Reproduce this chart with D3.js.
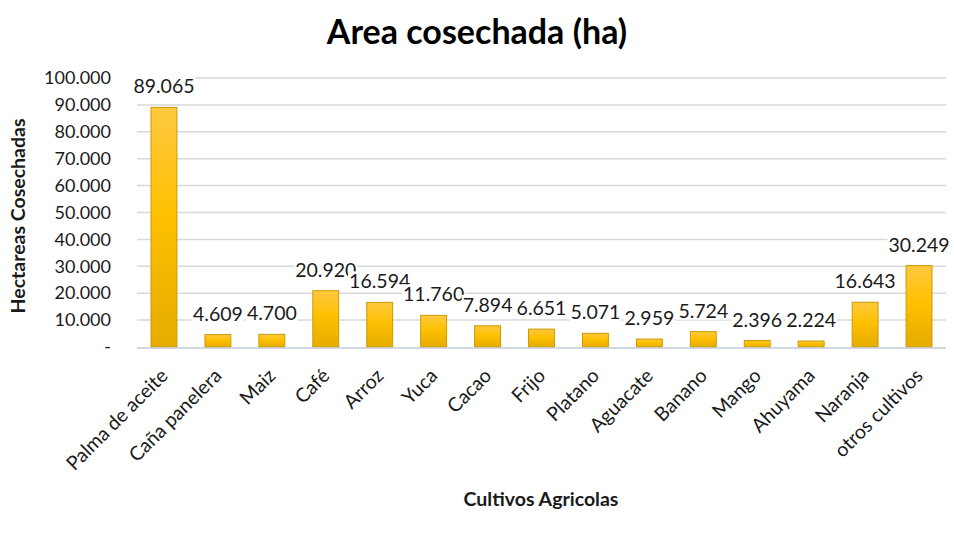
<!DOCTYPE html>
<html><head><meta charset="utf-8">
<script src="https://cdn.jsdelivr.net/npm/d3@7"></script>
<style>body{margin:0;background:#fff}svg{display:block}</style>
</head><body>
<svg id="c" width="954" height="537"></svg>
<script>
const categories = ["Palma de aceite","Caña panelera","Maiz","Café","Arroz","Yuca","Cacao","Frijo","Platano","Aguacate","Banano","Mango","Ahuyama","Naranja","otros cultivos"];
const values = [89065,4609,4700,20920,16594,11760,7894,6651,5071,2959,5724,2396,2224,16643,30249];
const valueLabels = ["89.065","4.609","4.700","20.920","16.594","11.760","7.894","6.651","5.071","2.959","5.724","2.396","2.224","16.643","30.249"];
const yTicks = [0,10000,20000,30000,40000,50000,60000,70000,80000,90000,100000];
const yTickLabels = ["-","10.000","20.000","30.000","40.000","50.000","60.000","70.000","80.000","90.000","100.000"];
const title = "Area cosechada (ha)";
const yTitle = "Hectareas Cosechadas";
const xTitle = "Cultivos Agricolas";

const FONT = "Lato, 'Open Sans', sans-serif";
const svg = d3.select("#c");
const m = {l:137, r:946, t:78, b:347};
const x = d3.scaleBand().domain(categories).range([m.l, m.r]).paddingInner(0.52).paddingOuter(0.26);
const y = d3.scaleLinear().domain([0,100000]).range([m.b, m.t]);

const defs = svg.append("defs");
const g = defs.append("linearGradient").attr("id","bg").attr("x1",0).attr("y1",0).attr("x2",0).attr("y2",1);
g.append("stop").attr("offset","0%").attr("stop-color","#FFC940");
g.append("stop").attr("offset","45%").attr("stop-color","#FFC000");
g.append("stop").attr("offset","100%").attr("stop-color","#E5AC00");

// gridlines
svg.append("g").selectAll("line").data(yTicks.slice(1)).join("line")
  .attr("x1",m.l).attr("x2",m.r).attr("y1",d=>y(d)).attr("y2",d=>y(d))
  .attr("stroke","#D9D9D9").attr("stroke-width",1.5);

// y axis labels
const yAxis = d3.axisLeft(y).tickValues(yTicks).tickSize(0).tickPadding(0)
  .tickFormat((d,i)=>yTickLabels[i]);
const ya = svg.append("g").attr("transform",`translate(${m.l-26},0)`).call(yAxis);
ya.select(".domain").remove();
ya.selectAll("text").attr("font-family",FONT).attr("font-size",18).attr("fill","#1a1a1a");

// bars
svg.append("g").selectAll("rect").data(values).join("rect")
  .attr("x",(d,i)=>x(categories[i])).attr("width",x.bandwidth())
  .attr("y",d=>y(d)).attr("height",d=>y(0)-y(d))
  .attr("fill","url(#bg)").attr("stroke","#C99A00").attr("stroke-width",1);

// baseline
svg.append("line").attr("x1",m.l).attr("x2",m.r).attr("y1",y(0)+1).attr("y2",y(0)+1)
  .attr("stroke","#C3CBD6").attr("stroke-width",1.5);

// value labels with white background
const lg = svg.append("g");
values.forEach((v,i)=>{
  const cx = x(categories[i]) + x.bandwidth()/2;
  const t = lg.append("text").attr("x",cx).attr("y",y(v)-14)
    .attr("text-anchor","middle").attr("font-family",FONT).attr("font-size",19.5)
    .attr("fill","#1a1a1a").text(valueLabels[i]);
  const bb = t.node().getBBox();
  lg.insert("rect", () => t.node()).attr("x",bb.x-1).attr("y",bb.y+2).attr("width",bb.width+2).attr("height",bb.height-4).attr("fill","#fff");
});

// x axis labels
const xAxis = d3.axisBottom(x).tickSize(0).tickPadding(0);
const xa = svg.append("g").attr("transform",`translate(0,${y(0)})`).call(xAxis);
xa.select(".domain").remove();
xa.selectAll("text").attr("font-family",FONT).attr("font-size",19.5).attr("fill","#1a1a1a")
  .attr("text-anchor","end").attr("dy",null)
  .attr("transform","translate(5,30) rotate(-45)");

// titles
svg.append("text").attr("x",477).attr("y",44).attr("text-anchor","middle")
  .attr("font-family",FONT).attr("font-weight","bold").attr("font-size",34).attr("fill","#000").text(title);
svg.append("text").attr("transform","translate(25,216) rotate(-90)").attr("text-anchor","middle")
  .attr("font-family",FONT).attr("font-weight","bold").attr("font-size",19.5).attr("fill","#1a1a1a").text(yTitle);
svg.append("text").attr("x",541).attr("y",506).attr("text-anchor","middle")
  .attr("font-family",FONT).attr("font-weight","bold").attr("font-size",19.5).attr("fill","#1a1a1a").text(xTitle);
</script>
</body></html>
